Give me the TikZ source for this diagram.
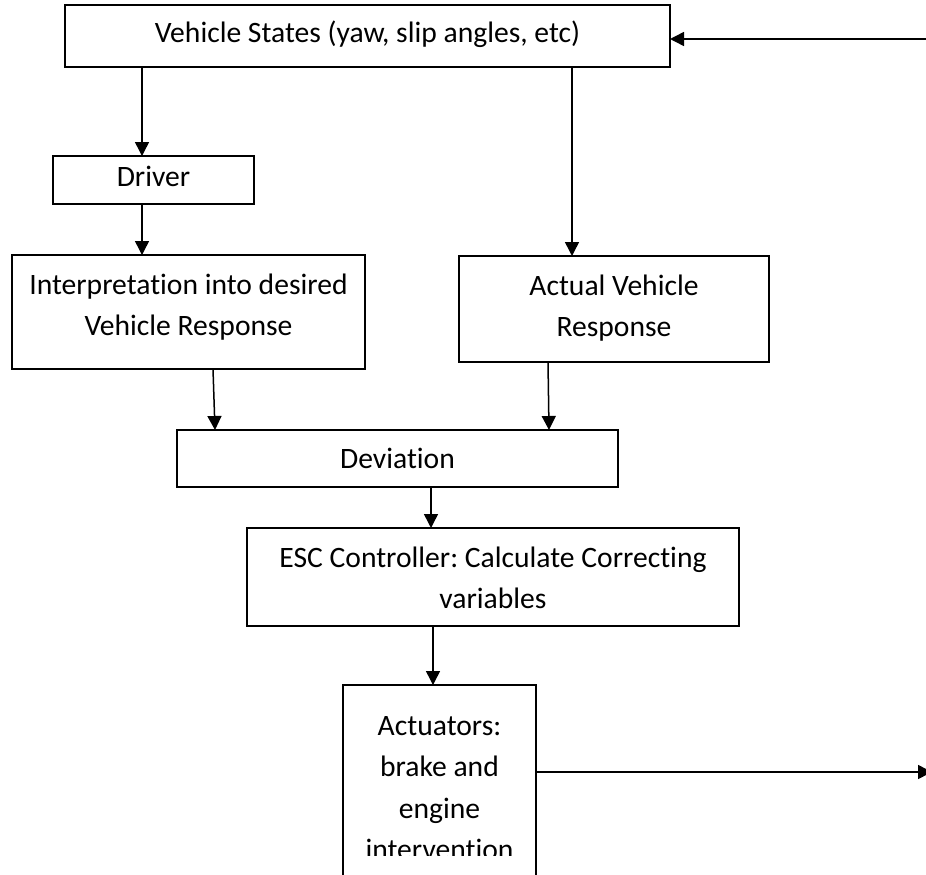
\documentclass[tikz,border=0pt]{standalone}
\usepackage{fontspec}
\setmainfont{Carlito}[Ligatures={NoCommon}]
\usetikzlibrary{arrows.meta}
\frenchspacing
\begin{document}
\begin{tikzpicture}[x=1pt,y=-1pt,
  box/.style={draw, line width=1.6pt, rectangle, inner sep=0pt, outer sep=0pt, anchor=north west},
  txt/.style={font=\fontsize{29.6}{41.5}\selectfont, align=center, inner sep=0pt},
  arr/.style={-{Triangle[length=14pt,width=14pt]}, line width=1.5pt}]
\useasboundingbox[fill=white] (0,0) rectangle (926,875);
\clip (0,0) rectangle (926,875);
% boxes
\node[box, minimum width=605pt, minimum height=62pt] (vs) at (65,5) {};
\node[box, minimum width=201pt, minimum height=48pt] (driver) at (53,156) {};
\node[box, minimum width=353pt, minimum height=114pt] (interp) at (12,255) {};
\node[box, minimum width=310pt, minimum height=106pt] (actual) at (459,256) {};
\node[box, minimum width=441pt, minimum height=57pt] (dev) at (177,430) {};
\node[box, minimum width=492pt, minimum height=98pt] (esc) at (247,528) {};
\node[box, minimum width=193pt, minimum height=230pt] (actu) at (343,685) {};
% texts
\node[txt, anchor=base] (vs-t) at (367.5,43) {Vehicle States (yaw, slip angles, etc)};
\node[txt, anchor=base] (driver-t) at (153.5,186) {Driver};
\node[txt] (interp-t) at (188.5,307) {Interpretation into desired\\Vehicle Response};
\node[txt] (actual-t) at (614,308) {Actual Vehicle\\Response};
\node[txt, anchor=base] (dev-t) at (397.5,468) {Deviation};
\node[txt] (esc-t) at (493,578) {ESC Controller: Calculate Correcting\\variables};
\begin{scope}
\clip (344,686) rectangle (535,855);
\node[txt] (actu-t) at (439.5,788) {Actuators:\\brake and\\engine\\intervention};
\end{scope}
% columns
\coordinate (c1) at (142,0);
\coordinate (c2) at (572,0);
\coordinate (c3a) at (213,0);
\coordinate (c3b) at (215,0);
\coordinate (c4a) at (548,0);
\coordinate (c4b) at (549,0);
\coordinate (c5) at (431,0);
\coordinate (c6) at (433,0);
\coordinate (fbIn) at (926,39);
\coordinate (outR) at (932,772);
% connectors
\draw[arr] (fbIn) -- (fbIn -| vs.east);
\draw[arr] (vs.south -| c1) -- (driver.north -| c1);
\draw[arr] (driver.south -| c1) -- (interp.north -| c1);
\draw[arr] (vs.south -| c2) -- (actual.north -| c2);
\draw[arr] (interp.south -| c3a) -- (dev.north -| c3b);
\draw[arr] (actual.south -| c4a) -- (dev.north -| c4b);
\draw[arr] (dev.south -| c5) -- (esc.north -| c5);
\draw[arr] (esc.south -| c6) -- (actu.north -| c6);
\draw[arr] (actu.east |- outR) -- (outR);
\end{tikzpicture}
\end{document}
